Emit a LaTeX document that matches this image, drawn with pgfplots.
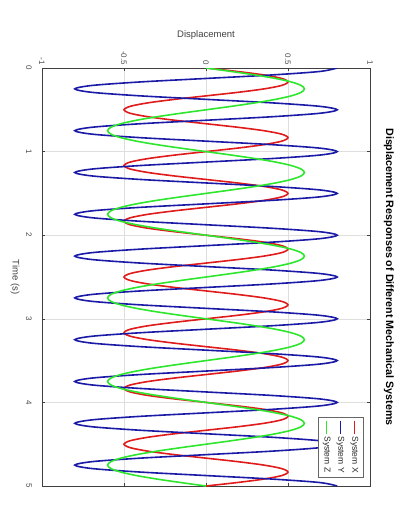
\documentclass[border=0pt]{standalone}
\usepackage{pgfplots}
\pgfplotsset{compat=1.18}
\usepackage{pgfplotstable}
\usepackage{graphicx}
\usepackage{fontspec}
\setmainfont{Liberation Sans}
\definecolor{sysX}{HTML}{E01B1B}
\definecolor{sysY}{HTML}{1A1AA6}
\definecolor{sysZ}{HTML}{2EE62E}
\pgfplotstableread{
t X Y Z
0 0 0.8 0
0.0417 0.1913 0.6928 0.1553
0.0833 0.3536 0.4 0.3
0.125 0.4619 0 0.4243
0.1667 0.5 -0.4 0.5196
0.2083 0.4619 -0.6928 0.5796
0.25 0.3536 -0.8 0.6
0.2917 0.1913 -0.6928 0.5796
0.3333 0 -0.4 0.5196
0.375 -0.1913 0 0.4243
0.4167 -0.3536 0.4 0.3
0.4583 -0.4619 0.6928 0.1553
0.5 -0.5 0.8 0
0.5417 -0.4619 0.6928 -0.1553
0.5833 -0.3536 0.4 -0.3
0.625 -0.1913 0 -0.4243
0.6667 0 -0.4 -0.5196
0.7083 0.1913 -0.6928 -0.5796
0.75 0.3536 -0.8 -0.6
0.7917 0.4619 -0.6928 -0.5796
0.8333 0.5 -0.4 -0.5196
0.875 0.4619 0 -0.4243
0.9167 0.3536 0.4 -0.3
0.9583 0.1913 0.6928 -0.1553
1 0 0.8 0
1.0417 -0.1913 0.6928 0.1553
1.0833 -0.3536 0.4 0.3
1.125 -0.4619 0 0.4243
1.1667 -0.5 -0.4 0.5196
1.2083 -0.4619 -0.6928 0.5796
1.25 -0.3536 -0.8 0.6
1.2917 -0.1913 -0.6928 0.5796
1.3333 0 -0.4 0.5196
1.375 0.1913 0 0.4243
1.4167 0.3536 0.4 0.3
1.4583 0.4619 0.6928 0.1553
1.5 0.5 0.8 0
1.5417 0.4619 0.6928 -0.1553
1.5833 0.3536 0.4 -0.3
1.625 0.1913 0 -0.4243
1.6667 0 -0.4 -0.5196
1.7083 -0.1913 -0.6928 -0.5796
1.75 -0.3536 -0.8 -0.6
1.7917 -0.4619 -0.6928 -0.5796
1.8333 -0.5 -0.4 -0.5196
1.875 -0.4619 0 -0.4243
1.9167 -0.3536 0.4 -0.3
1.9583 -0.1913 0.6928 -0.1553
2 0 0.8 0
2.0417 0.1913 0.6928 0.1553
2.0833 0.3536 0.4 0.3
2.125 0.4619 0 0.4243
2.1667 0.5 -0.4 0.5196
2.2083 0.4619 -0.6928 0.5796
2.25 0.3536 -0.8 0.6
2.2917 0.1913 -0.6928 0.5796
2.3333 0 -0.4 0.5196
2.375 -0.1913 0 0.4243
2.4167 -0.3536 0.4 0.3
2.4583 -0.4619 0.6928 0.1553
2.5 -0.5 0.8 0
2.5417 -0.4619 0.6928 -0.1553
2.5833 -0.3536 0.4 -0.3
2.625 -0.1913 0 -0.4243
2.6667 0 -0.4 -0.5196
2.7083 0.1913 -0.6928 -0.5796
2.75 0.3536 -0.8 -0.6
2.7917 0.4619 -0.6928 -0.5796
2.8333 0.5 -0.4 -0.5196
2.875 0.4619 0 -0.4243
2.9167 0.3536 0.4 -0.3
2.9583 0.1913 0.6928 -0.1553
3 0 0.8 0
3.0417 -0.1913 0.6928 0.1553
3.0833 -0.3536 0.4 0.3
3.125 -0.4619 0 0.4243
3.1667 -0.5 -0.4 0.5196
3.2083 -0.4619 -0.6928 0.5796
3.25 -0.3536 -0.8 0.6
3.2917 -0.1913 -0.6928 0.5796
3.3333 0 -0.4 0.5196
3.375 0.1913 0 0.4243
3.4167 0.3536 0.4 0.3
3.4583 0.4619 0.6928 0.1553
3.5 0.5 0.8 0
3.5417 0.4619 0.6928 -0.1553
3.5833 0.3536 0.4 -0.3
3.625 0.1913 0 -0.4243
3.6667 0 -0.4 -0.5196
3.7083 -0.1913 -0.6928 -0.5796
3.75 -0.3536 -0.8 -0.6
3.7917 -0.4619 -0.6928 -0.5796
3.8333 -0.5 -0.4 -0.5196
3.875 -0.4619 0 -0.4243
3.9167 -0.3536 0.4 -0.3
3.9583 -0.1913 0.6928 -0.1553
4 0 0.8 0
4.0417 0.1913 0.6928 0.1553
4.0833 0.3536 0.4 0.3
4.125 0.4619 0 0.4243
4.1667 0.5 -0.4 0.5196
4.2083 0.4619 -0.6928 0.5796
4.25 0.3536 -0.8 0.6
4.2917 0.1913 -0.6928 0.5796
4.3333 0 -0.4 0.5196
4.375 -0.1913 0 0.4243
4.4167 -0.3536 0.4 0.3
4.4583 -0.4619 0.6928 0.1553
4.5 -0.5 0.8 0
4.5417 -0.4619 0.6928 -0.1553
4.5833 -0.3536 0.4 -0.3
4.625 -0.1913 0 -0.4243
4.6667 0 -0.4 -0.5196
4.7083 0.1913 -0.6928 -0.5796
4.75 0.3536 -0.8 -0.6
4.7917 0.4619 -0.6928 -0.5796
4.8333 0.5 -0.4 -0.5196
4.875 0.4619 0 -0.4243
4.9167 0.3536 0.4 -0.3
4.9583 0.1913 0.6928 -0.1553
5 0 0.8 0
}\datatable
\begin{document}
\rotatebox{-90}{%
\begin{tikzpicture}
\begin{axis}[
  scale only axis,
  width=418pt, height=328pt,
  xmin=0, xmax=5, ymin=-1, ymax=1,
  xtick={0,1,2,3,4,5},
  ytick={-1,-0.5,0,0.5,1},
  /pgf/number format/assume math mode=true,
  grid=major,
  grid style={color=black!13, line width=0.5pt},
  axis line style={black!75, line width=0.8pt},
  tick style={black!75, line width=0.6pt},
  major tick length=3pt,
  tick label style={font=\fontsize{8}{9}\selectfont, text=black!70},
  xticklabel style={anchor=center, yshift=-13pt},
  yticklabel style={anchor=east, inner sep=1pt, xshift=-2pt},
  xlabel={Time (s)},
  ylabel={Displacement},
  label style={font=\fontsize{9.5}{11}\selectfont, text=black!75},
  xlabel style={at={(axis description cs:0.5,0)}, anchor=center, yshift=-27pt},
  ylabel style={at={(axis description cs:-0.079,0.5)}, anchor=center},
  title={Displacement Responses of Different Mechanical Systems},
  title style={font=\bfseries\fontsize{10.7}{12}\selectfont, at={(axis description cs:0.5,1)}, anchor=center, yshift=13pt},
  legend style={at={(axis description cs:0.981,0.979)}, anchor=north east,
    draw=black!60, line width=0.6pt, fill=white, font=\fontsize{8.5}{10}\selectfont,
    inner xsep=3pt, inner ysep=2.5pt, row sep=2.5pt, text=black!85},
  legend cell align=left,
  legend image code/.code={\draw[#1, line width=1.4pt] (0pt,0pt) -- (13pt,0pt);},
  clip=true,
]
\addplot[sysX, line width=1.6pt, smooth] table[x=t, y=X] {\datatable};
\addlegendentry{System X}
\addplot[sysY, line width=1.6pt, smooth] table[x=t, y=Y] {\datatable};
\addlegendentry{System Y}
\addplot[sysZ, line width=1.6pt, smooth] table[x=t, y=Z] {\datatable};
\addlegendentry{System Z}
\end{axis}
\pgfresetboundingbox
\path[use as bounding box] ([shift={(-68pt,-42pt)}]current axis.south west) rectangle ([shift={(41pt,27pt)}]current axis.north east);
\end{tikzpicture}}
\end{document}
